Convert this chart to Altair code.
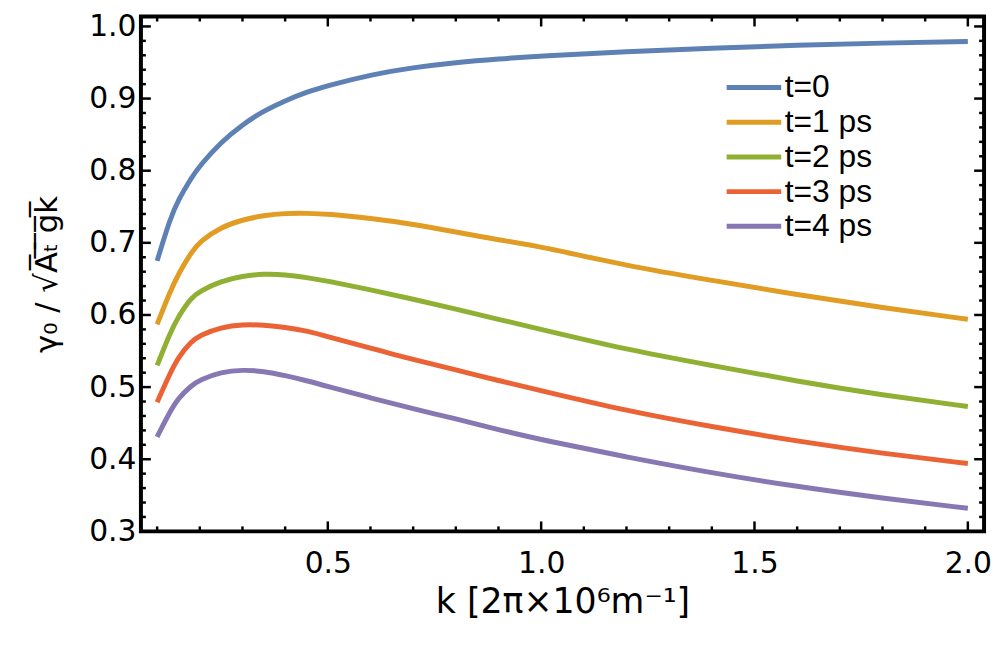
import altair as alt
import pandas as pd

# ---- data ----
k = [0.1, 0.13, 0.15, 0.18, 0.2, 0.25, 0.3, 0.35, 0.4, 0.45, 0.5,
     0.6, 0.7, 0.8, 0.9, 1.0, 1.2, 1.4, 1.6, 1.8, 2.0]
g_t0 = [0.675, 0.733, 0.760, 0.790, 0.807, 0.840, 0.864, 0.883, 0.897, 0.909, 0.918,
        0.933, 0.943, 0.950, 0.955, 0.959, 0.965, 0.970, 0.974, 0.977, 0.979]
g_t1 = [0.587, 0.632, 0.657, 0.687, 0.702, 0.722, 0.732, 0.738, 0.741, 0.741, 0.740,
        0.734, 0.726, 0.715, 0.704, 0.695, 0.668, 0.648, 0.628, 0.610, 0.594]
g_t2 = [0.530, 0.575, 0.598, 0.624, 0.633, 0.647, 0.654, 0.657, 0.656, 0.652, 0.647,
        0.635, 0.622, 0.608, 0.594, 0.580, 0.552, 0.530, 0.508, 0.489, 0.473]
g_t3 = [0.479, 0.519, 0.542, 0.563, 0.572, 0.583, 0.587, 0.586, 0.583, 0.578, 0.570,
        0.554, 0.538, 0.524, 0.509, 0.495, 0.467, 0.445, 0.425, 0.408, 0.394]
g_t4 = [0.431, 0.466, 0.485, 0.502, 0.510, 0.521, 0.524, 0.522, 0.516, 0.509, 0.501,
        0.485, 0.470, 0.456, 0.441, 0.427, 0.403, 0.381, 0.362, 0.346, 0.332]

series_labels = ["t=0", "t=1 ps", "t=2 ps", "t=3 ps", "t=4 ps"]
series_values = [g_t0, g_t1, g_t2, g_t3, g_t4]
colors = ["#5E81B5", "#E19C24", "#8FB032", "#EB6235", "#8778B3"]

x_major = [0.5, 1.0, 1.5, 2.0]
x_minor = [0.1, 0.2, 0.3, 0.4, 0.6, 0.7, 0.8, 0.9, 1.1, 1.2, 1.3, 1.4,
           1.6, 1.7, 1.8, 1.9]
y_major = [0.3, 0.4, 0.5, 0.6, 0.7, 0.8, 0.9, 1.0]
y_minor = [0.32, 0.34, 0.36, 0.38, 0.42, 0.44, 0.46, 0.48, 0.52, 0.54, 0.56, 0.58,
           0.62, 0.64, 0.66, 0.68, 0.72, 0.74, 0.76, 0.78, 0.82, 0.84, 0.86, 0.88,
           0.92, 0.94, 0.96, 0.98]

X_DOM = [0.062, 2.038]
Y_DOM = [0.3, 1.0137]

FONT = "Liberation Sans"
WIDE = "DejaVu Sans"

rows = []
for lab, vals in zip(series_labels, series_values):
    for kk, v in zip(k, vals):
        rows.append({"k": kk, "g": v, "t": lab})
df = pd.DataFrame(rows)

xs = alt.Scale(domain=X_DOM, nice=False, zero=False)
ys = alt.Scale(domain=Y_DOM, nice=False, zero=False)

lines = alt.Chart(df).mark_line(strokeWidth=5, interpolate="basis").encode(
    x=alt.X("k:Q", scale=xs,
            axis=alt.Axis(values=x_major, format=".1f", title="k [2π×10⁶m⁻¹]",
                          ticks=False, domain=False, grid=False,
                          labelPadding=17, titlePadding=7,
                          labelFontSize=30, titleFontSize=35,
                          labelFont=WIDE, titleFont=WIDE, titleFontWeight="normal",
                          labelColor="black", titleColor="black")),
    y=alt.Y("g:Q", scale=ys,
            axis=alt.Axis(values=y_major, format=".1f", title="γ₀ / √A̅ₜ̅ ̅g̅k̅",
                          ticks=False, domain=False, grid=False,
                          labelPadding=5, titlePadding=25,
                          labelFontSize=30, titleFontSize=31,
                          labelFont=WIDE, titleFont=WIDE, titleFontWeight="normal",
                          labelColor="black", titleColor="black")),
    color=alt.Color("t:N", scale=alt.Scale(domain=series_labels, range=colors),
                    legend=alt.Legend(orient="none", legendX=588, legendY=54, title=None,
                                      symbolType="stroke", symbolSize=3025,
                                      symbolStrokeWidth=5, labelFontSize=32,
                                      labelFont=FONT, labelColor="black",
                                      labelOffset=1, rowPadding=0, clipHeight=35,
                                      padding=0)),
)


def xticks(vals, size, at, sign):
    return alt.Chart(pd.DataFrame({"v": vals})).mark_tick(
        orient="vertical", size=size, thickness=2.5, color="black", opacity=1,
        yOffset=sign * size / 2).encode(
        x=alt.X("v:Q", scale=xs),
        y=alt.YDatum(at, scale=ys))


def yticks(vals, size, at, sign):
    return alt.Chart(pd.DataFrame({"v": vals})).mark_tick(
        orient="horizontal", size=size, thickness=2.5, color="black", opacity=1,
        xOffset=sign * size / 2).encode(
        y=alt.Y("v:Q", scale=ys),
        x=alt.XDatum(at, scale=xs))


tick_layers = [
    xticks(x_major, 10, Y_DOM[0], -1), xticks(x_minor, 5, Y_DOM[0], -1),
    xticks(x_major, 10, Y_DOM[1], 1), xticks(x_minor, 5, Y_DOM[1], 1),
    yticks(y_major, 10, X_DOM[0], 1), yticks(y_minor, 5, X_DOM[0], 1),
    yticks(y_major, 10, X_DOM[1], -1), yticks(y_minor, 5, X_DOM[1], -1),
]

chart = alt.layer(lines, *tick_layers).properties(
    width=850, height=519,
    padding={"left": 134, "top": 6, "right": 8, "bottom": 120},
    autosize=alt.AutoSizeParams(type="none"),
    background="white",
).configure_view(stroke="black", strokeWidth=4)

chart.save("out.html", embed_options={"renderer": "svg", "actions": False})
